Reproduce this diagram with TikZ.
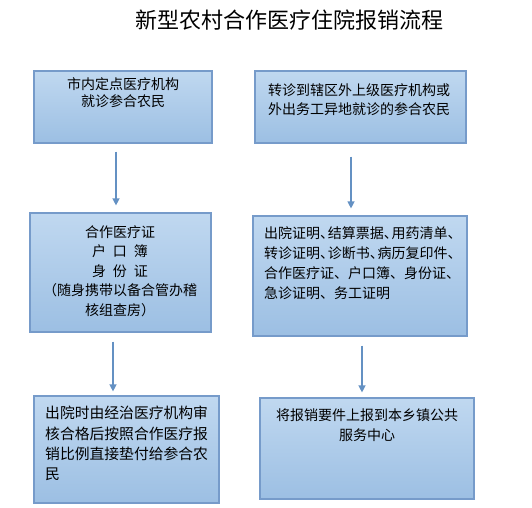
\documentclass[tikz,border=0pt]{standalone}
\usepackage{fontspec}
\setmainfont{Noto Sans CJK SC}
\newfontfamily\cjk{Noto Sans CJK SC}
\usetikzlibrary{arrows.meta,shadings}
\definecolor{boxtop}{RGB}{192,216,240}
\definecolor{boxbot}{RGB}{156,191,227}
\definecolor{boxline}{RGB}{118,155,202}
\definecolor{arrcol}{RGB}{100,145,195}
\newcommand\dun{\makebox[0.55em][l]{、}}
\tikzset{
  flowbox/.style={draw=boxline, line width=1.2pt, top color=boxtop, bottom color=boxbot, inner sep=0pt},
  boxtext/.style={inner sep=0pt, font=\cjk\fontsize{14pt}{20pt}\selectfont},
  flowarrow/.style={draw=arrcol, line width=1.3pt, -{Triangle[length=7pt,width=7pt]}},
}
\begin{document}
\begin{tikzpicture}[x=1pt,y=-1pt]
\useasboundingbox (0,0) rectangle (532,507);
\node[inner sep=0pt, font=\cjk\fontsize{22pt}{26pt}\selectfont] (title) at (289,20) {新型农村合作医疗住院报销流程};

% boxes
\node[flowbox, minimum width=178pt, minimum height=72pt] (b1) at (123,107) {};
\node[flowbox, minimum width=211pt, minimum height=72pt] (b2) at (360.5,107) {};
\node[flowbox, minimum width=181pt, minimum height=119pt] (b3) at (120.5,272.5) {};
\node[flowbox, minimum width=214pt, minimum height=120pt] (b4) at (360,276) {};
\node[flowbox, minimum width=185pt, minimum height=107pt] (b5) at (126.5,449.5) {};
\node[flowbox, minimum width=214pt, minimum height=101pt] (b6) at (367,448.5) {};

% texts
\node[boxtext, align=center, font=\cjk\fontsize{14pt}{17pt}\selectfont] (t1) at (123,92.5) {市内定点医疗机构\\就诊参合农民};
\node[boxtext, align=left, anchor=west, font=\cjk\fontsize{14pt}{18.5pt}\selectfont] (t2) at (268,99.5) {转诊到辖区外上级医疗机构或\\外出务工异地就诊的参合农民};
\node[boxtext, align=center, font=\cjk\fontsize{14pt}{19.5pt}\selectfont] (t3) at (120,271) {合作医疗证\\户\hspace{0.5em}口\hspace{0.5em}簿\\身\hspace{0.5em}份\hspace{0.5em}证\\（随身携带以备合管办稽\\核组查房）};
\node[boxtext, align=left, anchor=west] (t4) at (264,263) {出院证明\dun 结算票据\dun 用药清单、\\转诊证明\dun 诊断书\dun 病历复印件、\\合作医疗证、户口簿、身份证、\\急诊证明、务工证明};
\node[boxtext, align=left, anchor=west, font=\cjk\fontsize{14.8pt}{20.3pt}\selectfont] (t5) at (45,443.5) {出院时由经治医疗机构审\\核合格后按照合作医疗报\\销比例直接垫付给参合农\\民};
\node[boxtext, align=center] (t6) at (367,425) {将报销要件上报到本乡镇公共\\服务中心};

% arrows
\draw[flowarrow] ([xshift=-7pt,yshift=-8pt]b1.south) -- ([xshift=-4.5pt,yshift=7pt]b3.north);
\draw[flowarrow] ([xshift=-9.5pt,yshift=-13pt]b2.south) -- ([xshift=-9pt,yshift=7pt]b4.north);
\draw[flowarrow] ([xshift=-7.5pt,yshift=-9pt]b3.south) -- ([xshift=-13.5pt,yshift=4pt]b5.north);
\draw[flowarrow] ([xshift=2pt,yshift=-9pt]b4.south) -- ([xshift=-5pt,yshift=5pt]b6.north);
\end{tikzpicture}
\end{document}
